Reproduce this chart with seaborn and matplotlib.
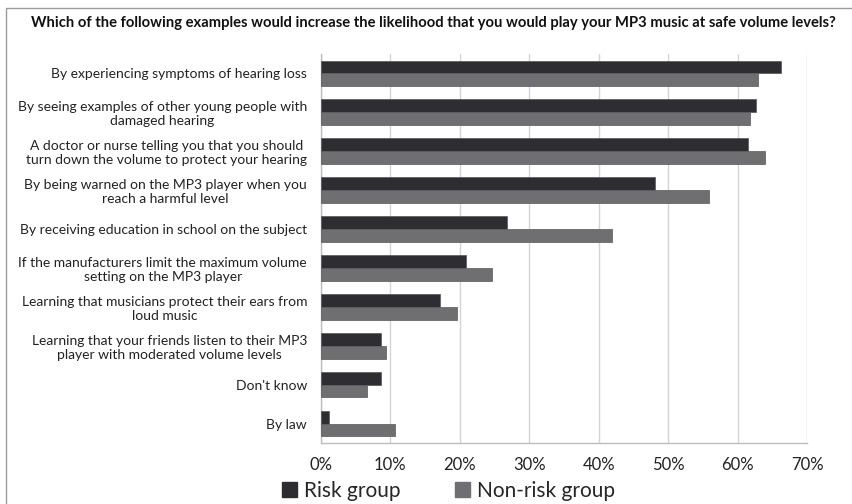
import matplotlib
matplotlib.use("Agg")
import matplotlib.pyplot as plt
import numpy as np
import pandas as pd
import seaborn as sns
from matplotlib.patches import Rectangle
from matplotlib.ticker import PercentFormatter, FixedLocator

title = "Which of the following examples would increase the likelihood that you would play your MP3 music at safe volume levels?"

categories = [
    "By experiencing symptoms of hearing loss",
    "By seeing examples of other young people with\ndamaged hearing",
    "A doctor or nurse telling you that you should\nturn down the volume to protect your hearing",
    "By being warned on the MP3 player when you\nreach a harmful level",
    "By receiving education in school on the subject",
    "If the manufacturers limit the maximum volume\nsetting on the MP3 player",
    "Learning that musicians protect their ears from\nloud music",
    "Learning that your friends listen to their MP3\nplayer with moderated volume levels",
    "Don't know",
    "By law",
]
risk = [66.3, 62.6, 61.5, 48.1, 26.8, 20.9, 17.2, 8.6, 8.6, 1.1]
non_risk = [63.0, 61.8, 63.9, 55.9, 41.9, 24.6, 19.6, 9.4, 6.7, 10.6]
groups = ["Risk group", "Non-risk group"]
colors = ["#2e2c33", "#6f6e73"]

df = pd.DataFrame({
    "label": categories * 2,
    "value": risk + non_risk,
    "group": [groups[0]] * len(categories) + [groups[1]] * len(categories),
})

sns.set_style("white")
plt.rcParams["font.family"] = ["Lato", "DejaVu Sans"]

fig = plt.figure(figsize=(8.53, 5.04), dpi=100)
ax = fig.add_axes([0.3763, 0.121, 0.5697, 0.772])

sns.barplot(data=df, y="label", x="value", hue="group", orient="h",
            palette=colors, width=0.66, edgecolor="#58565c", linewidth=0.5,
            ax=ax, zorder=3)

ax.set_xlim(0, 70)
ax.set_ylim(len(categories) - 0.5, -0.5)
ax.set_xticks(np.arange(0, 71, 10))
ax.xaxis.set_major_formatter(PercentFormatter(decimals=0))
ax.grid(axis="x", color="#d4d4d4", linewidth=1, zorder=0)
ax.set_xlabel("")
ax.set_ylabel("")

for s in ["top", "right"]:
    ax.spines[s].set_visible(False)
for s in ["left", "bottom"]:
    ax.spines[s].set_color("#bdbdbd")
    ax.spines[s].set_linewidth(1)

ax.tick_params(axis="x", length=4, color="#bdbdbd", labelsize=12, pad=6, labelcolor="#222222")
ax.tick_params(axis="y", which="major", length=0, labelsize=10, pad=10, labelcolor="#222222")
ax.yaxis.set_minor_locator(FixedLocator(np.arange(-0.5, len(categories), 1)))
ax.tick_params(axis="y", which="minor", length=4, color="#bdbdbd")
for t in ax.get_yticklabels():
    t.set_multialignment("center")

ax.legend_.remove()
handles = [Rectangle((0, 0), 1, 1, color=c) for c in colors]
fig.legend(handles, groups, loc="center", bbox_to_anchor=(0.526, 0.026), ncol=2,
           frameon=False, fontsize=15, handlelength=0.7, handleheight=0.7,
           handletextpad=0.35, columnspacing=2.6, borderpad=0)

fig.text(0.508, 0.955, title, ha="center", va="center",
         fontsize=10.6, fontweight="bold", color="#111111")

fig.patches.append(Rectangle((0.007, -0.05), 1.1, 0.034 + 1.0, transform=fig.transFigure,
                             fill=False, edgecolor="#9a9a9a", linewidth=1))

fig.savefig("out.png", dpi=100)
